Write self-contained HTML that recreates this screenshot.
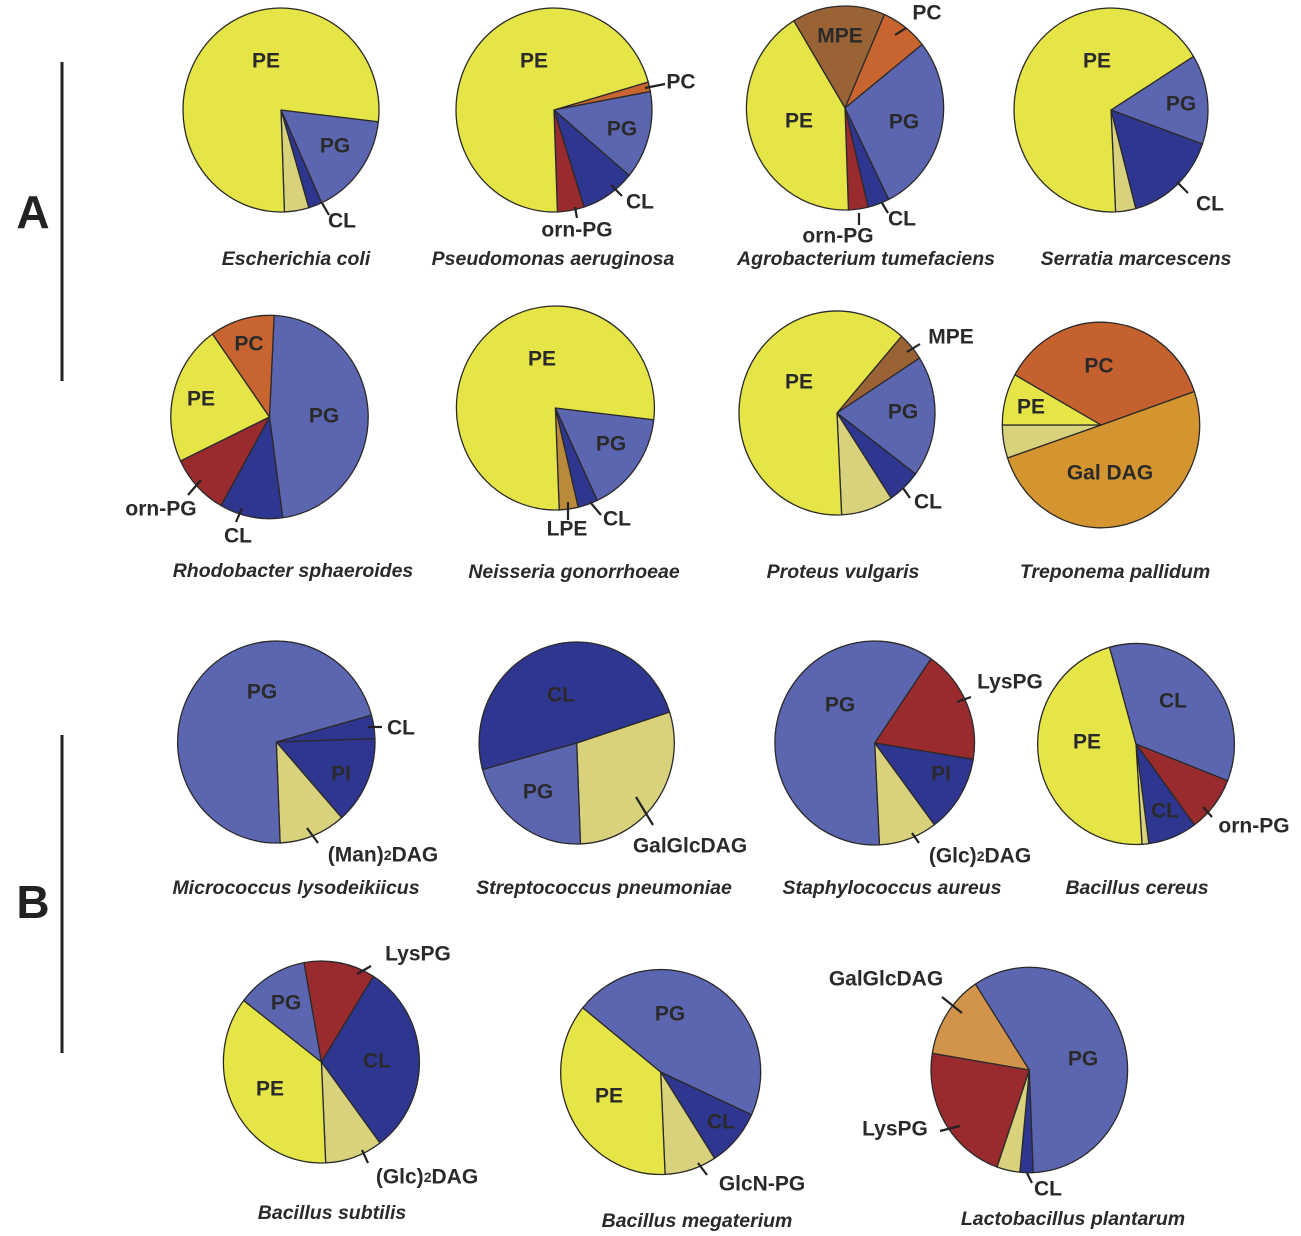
<!DOCTYPE html>
<html><head><meta charset="utf-8"><style>
html,body{margin:0;padding:0;background:#fff;}
svg{display:block;font-family:"Liberation Sans",Arial,sans-serif;}
.lb{font-size:21px;font-weight:bold;fill:#2a2a2a;text-anchor:middle;dominant-baseline:middle;}
.sp{font-size:19.5px;font-weight:bold;font-style:italic;fill:#2a2a2a;text-anchor:middle;dominant-baseline:middle;}
.ld{stroke:#222;stroke-width:2.2;}
</style></head><body>
<svg id="fig" width="1301" height="1236" viewBox="0 0 1301 1236">
<g id="pies"></g>
<g>
<line x1="62" y1="62" x2="62" y2="381" stroke="#222" stroke-width="3"/>
<text x="33" y="216" style="font-size:46px;font-weight:bold;fill:#222;text-anchor:middle;dominant-baseline:middle">A</text>
</g>
<g>
<line x1="62" y1="735" x2="62" y2="1053" stroke="#222" stroke-width="3"/>
<text x="33" y="906" style="font-size:46px;font-weight:bold;fill:#222;text-anchor:middle;dominant-baseline:middle">B</text>
</g>
<g>
<line class="ld" x1="322" y1="203" x2="329" y2="215"/>
<line class="ld" x1="645" y1="88" x2="665" y2="84"/>
<line class="ld" x1="611" y1="185" x2="622" y2="196"/>
<line class="ld" x1="575" y1="207" x2="577" y2="218"/>
<line class="ld" x1="895" y1="35" x2="906" y2="28"/>
<line class="ld" x1="882" y1="203" x2="888" y2="213"/>
<line class="ld" x1="859" y1="213" x2="859" y2="225"/>
<line class="ld" x1="1177" y1="182" x2="1188" y2="193"/>
<line class="ld" x1="201" y1="480" x2="188" y2="495"/>
<line class="ld" x1="242" y1="508" x2="236" y2="522"/>
<line class="ld" x1="568" y1="502" x2="568" y2="520"/>
<line class="ld" x1="590" y1="502" x2="601" y2="515"/>
<line class="ld" x1="907" y1="352" x2="920" y2="344"/>
<line class="ld" x1="903" y1="488" x2="910" y2="498"/>
<line class="ld" x1="368" y1="727" x2="382" y2="727"/>
<line class="ld" x1="307" y1="828" x2="318" y2="843"/>
<line class="ld" x1="636" y1="797" x2="653" y2="825"/>
<line class="ld" x1="957" y1="702" x2="971" y2="697"/>
<line class="ld" x1="912" y1="833" x2="919" y2="843"/>
<line class="ld" x1="1203" y1="807" x2="1212" y2="817"/>
<line class="ld" x1="357" y1="974" x2="371" y2="966"/>
<line class="ld" x1="362" y1="1150" x2="368" y2="1163"/>
<line class="ld" x1="698" y1="1163" x2="707" y2="1175"/>
<line class="ld" x1="942" y1="997" x2="962" y2="1013"/>
<line class="ld" x1="940" y1="1131" x2="960" y2="1126"/>
<line class="ld" x1="1027" y1="1173" x2="1032" y2="1183"/>
</g>
<g>
<text class="lb" x="266" y="62">PE</text><text class="lb" x="335" y="147">PG</text><text class="lb" x="342" y="222">CL</text>
<text class="lb" x="534" y="62">PE</text><text class="lb" x="681" y="83">PC</text><text class="lb" x="622" y="130">PG</text><text class="lb" x="640" y="203">CL</text><text class="lb" x="577" y="231">orn-PG</text>
<text class="lb" x="840" y="37">MPE</text><text class="lb" x="927" y="14">PC</text><text class="lb" x="799" y="122">PE</text><text class="lb" x="904" y="123">PG</text><text class="lb" x="902" y="220">CL</text><text class="lb" x="838" y="237">orn-PG</text>
<text class="lb" x="1097" y="62">PE</text><text class="lb" x="1181" y="105">PG</text><text class="lb" x="1210" y="205">CL</text>
<text class="lb" x="249" y="345">PC</text><text class="lb" x="201" y="400">PE</text><text class="lb" x="324" y="417">PG</text><text class="lb" x="161" y="510">orn-PG</text><text class="lb" x="238" y="537">CL</text>
<text class="lb" x="542" y="360">PE</text><text class="lb" x="611" y="445">PG</text><text class="lb" x="567" y="530">LPE</text><text class="lb" x="617" y="520">CL</text>
<text class="lb" x="799" y="383">PE</text><text class="lb" x="951" y="338">MPE</text><text class="lb" x="903" y="413">PG</text><text class="lb" x="928" y="503">CL</text>
<text class="lb" x="1099" y="367">PC</text><text class="lb" x="1031" y="408">PE</text><text class="lb" x="1110" y="474">Gal DAG</text>
<text class="lb" x="262" y="693">PG</text><text class="lb" x="401" y="729">CL</text><text class="lb" x="341" y="775">PI</text><text class="lb" x="383" y="856">(Man)<tspan style="font-size:14px">2</tspan>DAG</text>
<text class="lb" x="561" y="696">CL</text><text class="lb" x="538" y="793">PG</text><text class="lb" x="690" y="847">GalGlcDAG</text>
<text class="lb" x="840" y="706">PG</text><text class="lb" x="1010" y="683">LysPG</text><text class="lb" x="941" y="775">PI</text><text class="lb" x="980" y="857">(Glc)<tspan style="font-size:14px">2</tspan>DAG</text>
<text class="lb" x="1173" y="702">CL</text><text class="lb" x="1087" y="743">PE</text><text class="lb" x="1165" y="812">CL</text><text class="lb" x="1254" y="827">orn-PG</text>
<text class="lb" x="418" y="955">LysPG</text><text class="lb" x="286" y="1004">PG</text><text class="lb" x="377" y="1062">CL</text><text class="lb" x="270" y="1090">PE</text><text class="lb" x="427" y="1178">(Glc)<tspan style="font-size:14px">2</tspan>DAG</text>
<text class="lb" x="670" y="1015">PG</text><text class="lb" x="609" y="1097">PE</text><text class="lb" x="721" y="1123">CL</text><text class="lb" x="762" y="1185">GlcN-PG</text>
<text class="lb" x="1083" y="1060">PG</text><text class="lb" x="886" y="980">GalGlcDAG</text><text class="lb" x="895" y="1130">LysPG</text><text class="lb" x="1048" y="1190">CL</text>
</g>
<g>
<text class="sp" x="296" y="260">Escherichia coli</text>
<text class="sp" x="553" y="260">Pseudomonas aeruginosa</text>
<text class="sp" x="866" y="260">Agrobacterium tumefaciens</text>
<text class="sp" x="1136" y="260">Serratia marcescens</text>
<text class="sp" x="293" y="572">Rhodobacter sphaeroides</text>
<text class="sp" x="574" y="573">Neisseria gonorrhoeae</text>
<text class="sp" x="843" y="573">Proteus vulgaris</text>
<text class="sp" x="1115" y="573">Treponema pallidum</text>
<text class="sp" x="296" y="889">Micrococcus lysodeikiicus</text>
<text class="sp" x="604" y="889">Streptococcus pneumoniae</text>
<text class="sp" x="892" y="889">Staphylococcus aureus</text>
<text class="sp" x="1137" y="889">Bacillus cereus</text>
<text class="sp" x="332" y="1214">Bacillus subtilis</text>
<text class="sp" x="697" y="1222">Bacillus megaterium</text>
<text class="sp" x="1073" y="1220">Lactobacillus plantarum</text>
</g>
</svg>
<script>
// Data: species, slice classes (clockwise), slice shares (degrees), start angle (deg clockwise from top)
const speciesNames = ["E. coli","P. aeruginosa","A. tumefaciens","S. marcescens","R. sphaeroides","N. gonorrhoeae","P. vulgaris","T. pallidum","M. lysodeikiicus","S. pneumoniae","S. aureus","B. cereus","B. subtilis","B. megaterium","L. plantarum"];
const sliceClasses = [
 ["PG","CL","KH","PE"],
 ["PC","PG","CL","ORN","PE"],
 ["MPE","PC","PG","CL","ORN","PE"],
 ["PG","CL","KH","PE"],
 ["PG","CL","ORN","PE","PC"],
 ["PG","CL","LPE","PE"],
 ["MPE","PG","CL","KH","PE"],
 ["GALDAG","KH","PE","PC2"],
 ["CL","CL","KH","PG"],
 ["KH","PG","CL"],
 ["ORN","CL","KH","PG"],
 ["ORN","CL","KH","PE","PG"],
 ["CL","KH","PE","PG","ORN"],
 ["CL","KH","PE","PG"],
 ["CL","KH","ORN","GALGLC","PG"]
];
const sliceValues = [
 [58.9,8,14.5,278.6],
 [5.5,50.3,32.2,15.9,256.1],
 [54.9,27.9,102.2,12.7,11.6,150.7],
 [51.2,55.7,12.1,241],
 [169.6,37.1,35,80.3,38],
 [58.4,11.7,11.1,278.8],
 [16.2,69.3,19.8,30.8,223.9],
 [180.3,18.7,29.25,131.75],
 [13.5,50.4,39.3,256.8],
 [105.7,77,177.3],
 [64.9,44.1,34,217],
 [32.2,28.9,4,167.9,127],
 [111.3,34.2,130,42.3,42.2],
 [32.8,30.1,131.3,165.8],
 [7.8,13.7,80.2,47.4,210.9]
];
const startAngles = [96.6,74.1,328.7,58.3,2.7,96.6,41.2,71,74.6,72.1,34.3,111.4,32,114.6,177.7];

// Layout (not data): centre and radii of each pie
const layout = [
 [281,110,98,102],[554,110,98,102],[845,108,98.6,102],[1111,110,97,102],
 [269.5,417,98.7,101.7],[555.4,408,99,102],[837,413,98,102],[1101,425,98.7,102.8],
 [276.3,742,98.7,101],[576.7,743,97.6,101],[874.7,743,99.8,102],[1136,744,98.4,100.5],
 [321.4,1062,98,101],[660.7,1072,100,102.5],[1029.3,1070,98.3,102.7]
];
const palette = {PE:"#e6e548",PG:"#5c66b0",CL:"#2f3690",KH:"#d8d27c",ORN:"#992a2e",PC:"#c8642f",PC2:"#c4612e",MPE:"#9a6336",LPE:"#b98a39",GALDAG:"#d4942f",GALGLC:"#d2934a"};

const NS="http://www.w3.org/2000/svg";
const root=document.getElementById("pies");
function pt(c,a){const r=a*Math.PI/180;return [c[0]+c[2]*Math.sin(r), c[1]-c[3]*Math.cos(r)];}
sliceValues.forEach((vals,i)=>{
  const c=layout[i];
  const g=document.createElementNS(NS,"g");
  
  
  const total=vals.reduce((s,v)=>s+v,0);
  let a=startAngles[i];
  vals.forEach((v,j)=>{
    const sweep=v/total*360;
    const p0=pt(c,a), p1=pt(c,a+sweep);
    const large=sweep>180?1:0;
    const path=document.createElementNS(NS,"path");
    path.setAttribute("d",`M${c[0]},${c[1]} L${p0[0]},${p0[1]} A${c[2]},${c[3]} 0 ${large} 1 ${p1[0]},${p1[1]} Z`);
    path.setAttribute("fill",palette[sliceClasses[i][j]]);
    path.setAttribute("stroke","#2a2a2a");
    path.setAttribute("stroke-width","1.3");
    path.setAttribute("stroke-linejoin","round");
    
    
    g.appendChild(path);
    a+=sweep;
  });
  root.appendChild(g);
});
</script>
</body></html>
